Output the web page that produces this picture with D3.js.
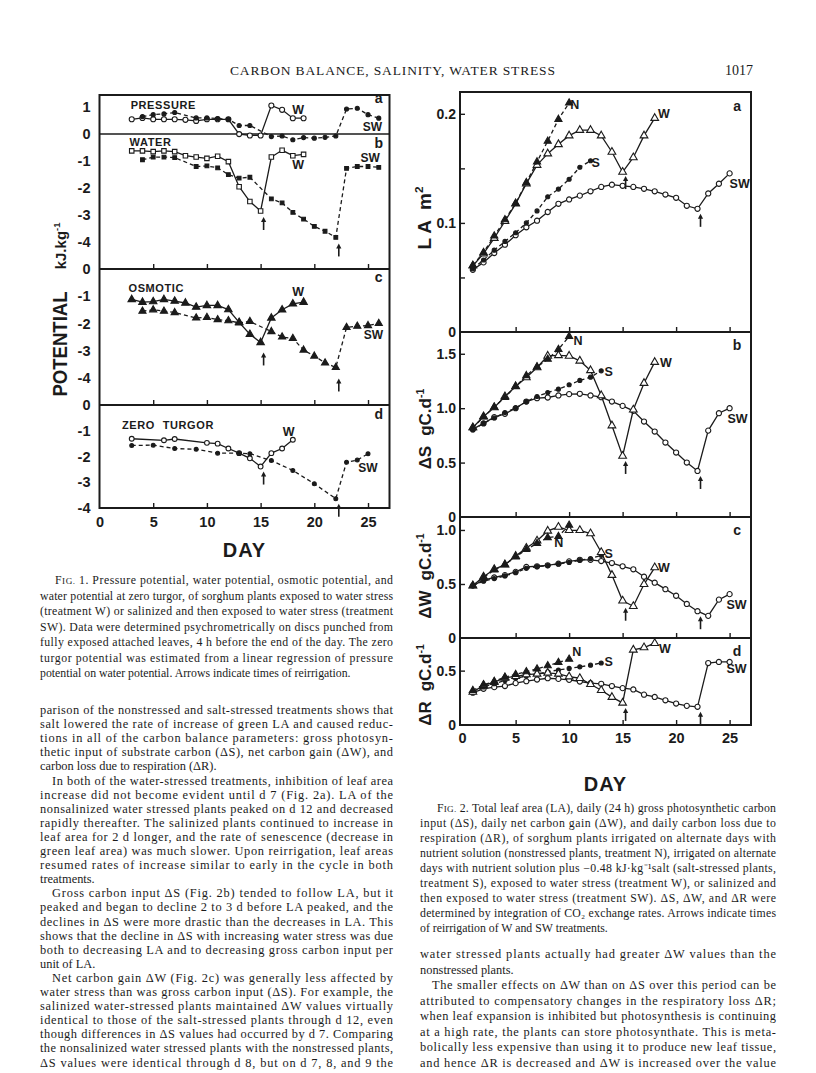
<!DOCTYPE html>
<html lang="en">
<head>
<meta charset="utf-8">
<title>Carbon balance, salinity, water stress</title>
<script src="https://cdn.jsdelivr.net/npm/d3@7"></script>
<style>
  body { margin: 0; background: #fff; }
  svg { display: block; }
</style>
</head>
<body>
<div id="page"></div>
<script>
// ---------- figure 1 data: leaf potentials (kJ/kg) by day ----------
const fig1DaysW = [3, 4, 5, 6, 7, 8, 9, 10, 11, 12, 13, 14, 15, 16, 17, 18, 19];
const fig1DaysSW = [4, 5, 6, 7, 9, 10, 11, 12, 13, 14, 16, 17, 18, 19, 20, 21, 22, 23, 24, 25, 26];
const pressureW = [0.55, 0.6, 0.55, 0.55, 0.55, 0.53, 0.49, 0.55, 0.55, 0.55, 0.0, -0.05, -0.05, 1.06, 0.9, 0.59, 0.59];
const pressureSW = [0.65, 0.72, 0.75, 0.8, 0.6, 0.6, 0.58, 0.55, 0.32, 0.32, -0.09, -0.07, -0.21, -0.13, -0.15, -0.12, -0.07, 0.93, 0.96, 0.72, 0.59];
const waterW = [-0.62, -0.62, -0.65, -0.62, -0.65, -0.8, -0.85, -0.9, -0.82, -1.02, -1.95, -2.5, -2.85, -0.85, -0.6, -0.8, -0.75];
const waterSW = [-0.95, -0.85, -0.85, -0.87, -1.2, -1.18, -1.25, -1.5, -1.63, -1.6, -2.4, -2.55, -2.9, -3.15, -3.42, -3.6, -3.83, -1.27, -1.2, -1.2, -1.23];
const osmoticW = [-1.12, -1.22, -1.2, -1.12, -1.18, -1.25, -1.4, -1.34, -1.34, -1.49, -1.96, -2.4, -2.7, -1.8, -1.5, -1.28, -1.22];
const osmoticSW = [-1.55, -1.5, -1.55, -1.6, -1.8, -1.78, -1.86, -1.9, -1.98, -1.93, -2.3, -2.5, -2.55, -2.98, -3.2, -3.45, -3.62, -2.15, -2.1, -2.08, -2.0];
const turgorDaysW = [3, 6, 7, 10, 11, 12, 13, 14, 15, 16, 17, 18];
const turgorW = [-1.31, -1.37, -1.32, -1.47, -1.5, -1.69, -1.87, -2.07, -2.39, -1.87, -1.69, -1.35];
const turgorDaysSW = [3, 5, 7, 9, 11, 13, 14, 16, 18, 20, 22, 23, 24, 25];
const turgorSW = [-1.57, -1.56, -1.69, -1.72, -1.87, -1.87, -1.89, -2.16, -2.54, -3.06, -3.64, -2.22, -2.14, -1.89];
const fig1YTicks = [[1, 0, -1, -2, -3, -4], [0, -1, -2, -3, -4], [0, -1, -2, -3, -4]];
const dayTicks = [0, 5, 10, 15, 20, 25];

// reirrigation days (arrows)
const reirrigateW = 15;
const reirrigateSW = 22;

// ---------- figure 2 data: LA (m2), dS, dW, dR (gC/d) by day ----------
const daysN = [1, 2, 3, 4, 5, 6, 7, 8, 9, 10];
const daysS12 = [1, 2, 3, 4, 5, 6, 7, 8, 9, 10, 11, 12];
const daysS = [1, 2, 3, 4, 5, 6, 7, 8, 9, 10, 11, 12, 13];
const daysW = [1, 2, 3, 4, 5, 6, 7, 8, 9, 10, 11, 12, 13, 14, 15, 16, 17, 18];
const daysSW = [1, 2, 3, 4, 5, 6, 7, 8, 9, 10, 11, 12, 13, 14, 15, 16, 17, 18, 19, 20, 21, 22, 23, 24, 25];

const laN = [0.061, 0.073, 0.088, 0.103, 0.118, 0.137, 0.156, 0.175, 0.195, 0.21];
const laS = [0.058, 0.066, 0.075, 0.083, 0.091, 0.1, 0.111, 0.124, 0.131, 0.14, 0.151, 0.157];
const laW = [0.0607, 0.0718, 0.086, 0.1015, 0.1175, 0.136, 0.153, 0.1635, 0.172, 0.18, 0.185, 0.185, 0.18, 0.165, 0.1466, 0.16, 0.18, 0.196];
const laSW = [0.057, 0.0638, 0.0724, 0.08, 0.0887, 0.096, 0.102, 0.11, 0.1175, 0.1215, 0.125, 0.129, 0.133, 0.135, 0.134, 0.133, 0.1313, 0.129, 0.126, 0.123, 0.1157, 0.1129, 0.127, 0.1359, 0.1454];

const dsN = [0.82, 0.92, 1.01, 1.1, 1.2, 1.3, 1.38, 1.45, 1.54, 1.66];
const dsS = [0.8, 0.86, 0.91, 0.96, 1.0, 1.06, 1.107, 1.144, 1.175, 1.215, 1.255, 1.285, 1.343];
const dsW = [0.822, 0.923, 1.006, 1.107, 1.2, 1.282, 1.374, 1.48, 1.485, 1.48, 1.435, 1.347, 1.117, 0.84, 0.561, 0.985, 1.23, 1.423];
const dsSW = [0.807, 0.86, 0.917, 0.948, 1.0, 1.061, 1.092, 1.098, 1.117, 1.129, 1.132, 1.117, 1.101, 1.061, 1.021, 0.975, 0.877, 0.785, 0.684, 0.592, 0.5, 0.423, 0.794, 0.954, 1.0];

const dwN = [0.485, 0.56, 0.63, 0.68, 0.75, 0.82, 0.875, 0.93, 0.94, 1.045];
const dwS = [0.485, 0.525, 0.55, 0.575, 0.605, 0.645, 0.66, 0.67, 0.685, 0.7, 0.72, 0.735, 0.765];
const dwW = [0.485, 0.567, 0.636, 0.679, 0.758, 0.833, 0.9, 0.991, 1.027, 0.997, 0.997, 0.967, 0.794, 0.582, 0.345, 0.294, 0.497, 0.652];
const dwSW = [0.485, 0.536, 0.56, 0.582, 0.612, 0.658, 0.664, 0.673, 0.688, 0.709, 0.724, 0.724, 0.712, 0.694, 0.664, 0.636, 0.567, 0.512, 0.452, 0.391, 0.315, 0.248, 0.205, 0.355, 0.406];

const drN = [0.318, 0.37, 0.4, 0.44, 0.465, 0.49, 0.515, 0.545, 0.576, 0.606];
const drS = [0.3, 0.35, 0.38, 0.41, 0.43, 0.45, 0.47, 0.49, 0.506, 0.52, 0.535, 0.55, 0.57];
const drW = [0.303, 0.364, 0.394, 0.433, 0.448, 0.464, 0.47, 0.479, 0.47, 0.445, 0.43, 0.375, 0.32, 0.256, 0.203, 0.691, 0.712, 0.752];
const drSW = [0.297, 0.333, 0.348, 0.358, 0.385, 0.403, 0.418, 0.43, 0.424, 0.415, 0.4, 0.385, 0.379, 0.358, 0.339, 0.327, 0.279, 0.258, 0.227, 0.197, 0.176, 0.167, 0.57, 0.58, 0.58];

const fig2YLabels = [[0.2, 0.1, 0], [1.5, 1.0, 0.5, 0], [1.0, 0.5, 0], [0.5, 0]];
const fig2YTicks = [[0.05, 0.1, 0.15, 0.2], [0.5, 1.0, 1.5], [0.5, 1.0], [0.5]];

// ---------- page text ----------
const headerTitle = "CARBON BALANCE, SALINITY, WATER STRESS";
const pageNumber = "1017";

const fig1Caption = [
  {
    indent: true,
    lines: [
      "FIG. 1. Pressure potential, water potential, osmotic potential, and",
      "water potential at zero turgor, of sorghum plants exposed to water stress",
      "(treatment W) or salinized and then exposed to water stress (treatment",
      "SW). Data were determined psychrometrically on discs punched from",
      "fully exposed attached leaves, 4 h before the end of the day. The zero",
      "turgor potential was estimated from a linear regression of pressure",
      "potential on water potential. Arrows indicate times of reirrigation.",
    ],
  },
];

const leftBody = [
  {
    indent: false,
    lines: [
      "parison of the nonstressed and salt-stressed treatments shows that",
      "salt lowered the rate of increase of green LA and caused reduc-",
      "tions in all of the carbon balance parameters: gross photosyn-",
      "thetic input of substrate carbon (ΔS), net carbon gain (ΔW), and",
      "carbon loss due to respiration (ΔR).",
    ],
  },
  {
    indent: true,
    lines: [
      "In both of the water-stressed treatments, inhibition of leaf area",
      "increase did not become evident until d 7 (Fig. 2a). LA of the",
      "nonsalinized water stressed plants peaked on d 12 and decreased",
      "rapidly thereafter. The salinized plants continued to increase in",
      "leaf area for 2 d longer, and the rate of senescence (decrease in",
      "green leaf area) was much slower. Upon reirrigation, leaf areas",
      "resumed rates of increase similar to early in the cycle in both",
      "treatments.",
    ],
  },
  {
    indent: true,
    lines: [
      "Gross carbon input ΔS (Fig. 2b) tended to follow LA, but it",
      "peaked and began to decline 2 to 3 d before LA peaked, and the",
      "declines in ΔS were more drastic than the decreases in LA. This",
      "shows that the decline in ΔS with increasing water stress was due",
      "both to decreasing LA and to decreasing gross carbon input per",
      "unit of LA.",
    ],
  },
  {
    indent: true,
    cont: true,
    lines: [
      "Net carbon gain ΔW (Fig. 2c) was generally less affected by",
      "water stress than was gross carbon input (ΔS). For example, the",
      "salinized water-stressed plants maintained ΔW values virtually",
      "identical to those of the salt-stressed plants through d 12, even",
      "though differences in ΔS values had occurred by d 7. Comparing",
      "the nonsalinized water stressed plants with the nonstressed plants,",
      "ΔS values were identical through d 8, but on d 7, 8, and 9 the",
    ],
  },
];

const fig2Caption = [
  {
    indent: true,
    lines: [
      "FIG. 2. Total leaf area (LA), daily (24 h) gross photosynthetic carbon",
      "input (ΔS), daily net carbon gain (ΔW), and daily carbon loss due to",
      "respiration (ΔR), of sorghum plants irrigated on alternate days with",
      "nutrient solution (nonstressed plants, treatment N), irrigated on alternate",
      "days with nutrient solution plus −0.48 kJ·kg⁻¹salt (salt-stressed plants,",
      "treatment S), exposed to water stress (treatment W), or salinized and",
      "then exposed to water stress (treatment SW). ΔS, ΔW, and ΔR were",
      "determined by integration of CO₂ exchange rates. Arrows indicate times",
      "of reirrigation of W and SW treatments.",
    ],
  },
];

const rightBody = [
  {
    indent: false,
    lines: [
      "water stressed plants actually had greater ΔW values than the",
      "nonstressed plants.",
    ],
  },
  {
    indent: true,
    cont: true,
    lines: [
      "The smaller effects on ΔW than on ΔS over this period can be",
      "attributed to compensatory changes in the respiratory loss ΔR;",
      "when leaf expansion is inhibited but photosynthesis is continuing",
      "at a high rate, the plants can store photosynthate. This is meta-",
      "bolically less expensive than using it to produce new leaf tissue,",
      "and hence ΔR is decreased and ΔW is increased over the value",
    ],
  },
];

// ---------- setup ----------
const ink = "#1b1b1b";
const sans = "'Liberation Sans', Arial, Helvetica, sans-serif";
const serif = "'Liberation Serif', 'Times New Roman', serif";

const svg = d3
  .select("#page")
  .append("svg")
  .attr("width", 816)
  .attr("height", 1073);

svg.append("rect").attr("width", 816).attr("height", 1073).attr("fill", "#fff");

// running head
svg
  .append("text")
  .attr("x", 230)
  .attr("y", 75)
  .attr("textLength", 325)
  .attr("lengthAdjust", "spacing")
  .style("font-family", serif)
  .style("font-size", "13.5px")
  .style("fill", ink)
  .text(headerTitle);

svg
  .append("text")
  .attr("x", 753)
  .attr("y", 75)
  .attr("text-anchor", "end")
  .style("font-family", serif)
  .style("font-size", "14px")
  .style("fill", ink)
  .text(pageNumber);

// ---------- helpers ----------
function seriesPoints(days, values) {
  return days.map((d, i) => ({ day: d, v: values[i] }));
}

function drawSeries(g, xS, yS, s) {
  const pts = seriesPoints(s.days, s.values);
  g.append("path")
    .datum(pts)
    .attr("fill", "none")
    .attr("stroke", ink)
    .attr("stroke-width", 1.3)
    .attr("stroke-dasharray", s.dashed ? "4,3" : null)
    .attr(
      "d",
      d3
        .line()
        .x((d) => xS(d.day))
        .y((d) => yS(d.v))
    );

  const sym = d3.symbol().type(s.symbol).size(s.size);
  g.selectAll(null)
    .data(pts)
    .join("path")
    .attr("transform", (d) => `translate(${xS(d.day)},${yS(d.v)})`)
    .attr("d", sym)
    .attr("fill", s.filled ? ink : "#fff")
    .attr("stroke", ink)
    .attr("stroke-width", 1.1);

  // reirrigation arrow under the low point
  if (s.arrow !== undefined) {
    const i = s.days.indexOf(s.arrow);
    const ax = xS(s.arrow) + 3;
    const top = yS(s.values[i]) + s.gap;
    g.append("line")
      .attr("x1", ax)
      .attr("x2", ax)
      .attr("y1", top + 3)
      .attr("y2", top + 13)
      .attr("stroke", ink)
      .attr("stroke-width", 1.6);
    g.append("path")
      .attr("d", `M${ax - 2.6},${top + 5}L${ax},${top}L${ax + 2.6},${top + 5}Z`)
      .attr("fill", ink);
  }
}

function drawLabels(g, xS, yS, labels) {
  labels.forEach((l) => {
    g.append("text")
      .attr("x", xS(l.day))
      .attr("y", yS(l.v))
      .attr("text-anchor", l.anchor || "start")
      .style("font-family", sans)
      .style("font-weight", "bold")
      .style("font-size", `${l.size || 12.5}px`)
      .style("letter-spacing", l.spacing || null)
      .style("word-spacing", l.words || null)
      .style("fill", ink)
      .text(l.text);
  });
}

function drawPanel(root, xS, p, opt) {
  const yS = d3.scaleLinear().domain(p.domain).range([p.bottom, p.top]);
  const left = xS.range()[0];
  const right = xS.range()[1];

  // y tick labels
  root
    .append("g")
    .attr("transform", `translate(${left},0)`)
    .call(
      d3
        .axisLeft(yS)
        .tickValues(p.labels)
        .tickSize(0)
        .tickPadding(opt.yPad)
        .tickFormat(p.format)
    )
    .call((g) => g.select(".domain").remove())
    .attr("font-family", sans)
    .attr("font-size", opt.tickFont)
    .attr("font-weight", "bold")
    .selectAll("text")
    .attr("fill", ink);

  // inward y ticks
  if (p.yTicks) {
    root
      .append("g")
      .attr("transform", `translate(${left},0)`)
      .call(d3.axisRight(yS).tickValues(p.yTicks).tickSize(5).tickFormat(""))
      .call((g) => g.select(".domain").remove())
      .selectAll("line")
      .attr("stroke", ink)
      .attr("stroke-width", 1.4);
  }

  // inward day ticks along the bottom edge
  root
    .append("g")
    .attr("transform", `translate(0,${p.bottom})`)
    .call(d3.axisTop(xS).tickValues(dayTicks.slice(1)).tickSize(5).tickFormat(""))
    .call((g) => g.select(".domain").remove())
    .selectAll("line")
    .attr("stroke", ink)
    .attr("stroke-width", 1.4);

  if (p.zeroLine) {
    root
      .append("line")
      .attr("x1", left)
      .attr("x2", right)
      .attr("y1", yS(0))
      .attr("y2", yS(0))
      .attr("stroke", ink)
      .attr("stroke-width", 1.5);
  }

  p.series.forEach((s) => drawSeries(root, xS, yS, s));
  drawLabels(root, xS, yS, p.text);
  return yS;
}

function drawFrame(root, xS, panels) {
  const left = xS.range()[0];
  const right = xS.range()[1];
  const top = panels[0].top;
  const bottom = panels[panels.length - 1].bottom;
  root
    .append("rect")
    .attr("x", left)
    .attr("y", top)
    .attr("width", right - left)
    .attr("height", bottom - top)
    .attr("fill", "none")
    .attr("stroke", ink)
    .attr("stroke-width", 2);
  panels.slice(1).forEach((p) => {
    root
      .append("line")
      .attr("x1", left)
      .attr("x2", right)
      .attr("y1", p.top)
      .attr("y2", p.top)
      .attr("stroke", ink)
      .attr("stroke-width", 1.8);
  });
}

function drawDayAxis(root, xS, bottom, pad, titleDrop) {
  root
    .append("g")
    .attr("transform", `translate(0,${bottom})`)
    .call(d3.axisBottom(xS).tickValues(dayTicks).tickSize(0).tickPadding(pad))
    .call((g) => g.select(".domain").remove())
    .attr("font-family", sans)
    .attr("font-size", 14.5)
    .attr("font-weight", "bold")
    .selectAll("text")
    .attr("fill", ink);
  root
    .append("text")
    .attr("x", (xS.range()[0] + xS.range()[1]) / 2)
    .attr("y", bottom + titleDrop)
    .attr("text-anchor", "middle")
    .style("font-family", sans)
    .style("font-weight", "bold")
    .style("font-size", "20px")
    .style("letter-spacing", "1px")
    .style("fill", ink)
    .text("DAY");
}

// rotated axis title with a superscript tail
function drawYTitle(x, yMid, main, unit, sup, size, gap) {
  const t = svg
    .append("text")
    .attr("transform", `translate(${x},${yMid}) rotate(-90)`)
    .attr("text-anchor", "middle")
    .style("font-family", sans)
    .style("font-weight", "bold")
    .style("font-size", `${size}px`)
    .style("fill", ink);
  t.append("tspan").text(main);
  t.append("tspan").attr("dx", gap).text(unit);
  t.append("tspan")
    .attr("dy", -size * 0.42)
    .style("font-size", `${size * 0.62}px`)
    .text(sup);
  return t;
}

// ---------- figure 1 ----------
const fig1 = svg.append("g").attr("class", "fig1");
const fig1X = d3.scaleLinear().domain([0, 27]).range([99.5, 389.5]);
const intFmt = (d) => String(d);

const fig1Panels = [
  {
    top: 95,
    bottom: 269,
    domain: [-5, 1.45],
    labels: fig1YTicks[0],
    format: intFmt,
    zeroLine: true,
    series: [
      { days: fig1DaysW, values: pressureW, symbol: d3.symbolCircle, size: 20, filled: false },
      { days: fig1DaysSW, values: pressureSW, symbol: d3.symbolCircle, size: 13, filled: true, dashed: true },
      { days: fig1DaysW, values: waterW, symbol: d3.symbolSquare, size: 20, filled: false, arrow: reirrigateW, gap: 6 },
      { days: fig1DaysSW, values: waterSW, symbol: d3.symbolSquare, size: 14, filled: true, dashed: true, arrow: reirrigateSW, gap: 6 },
    ],
    text: [
      { text: "PRESSURE", day: 2.9, v: 0.92, size: 11, spacing: "0.6px" },
      { text: "W", day: 18.5, v: 0.74, anchor: "middle" },
      { text: "a", day: 26, v: 1.14, anchor: "middle", size: 14 },
      { text: "SW", day: 25.4, v: 0.11, anchor: "middle", size: 12 },
      { text: "WATER", day: 2.8, v: -0.44, size: 11, spacing: "0.6px" },
      { text: "b", day: 26, v: -0.5, anchor: "middle", size: 14 },
      { text: "SW", day: 25.2, v: -1.03, anchor: "middle", size: 12 },
      { text: "W", day: 18.5, v: -1.29, anchor: "middle" },
    ],
  },
  {
    top: 269,
    bottom: 405,
    domain: [-5, 0],
    labels: fig1YTicks[1],
    format: intFmt,
    series: [
      { days: fig1DaysW, values: osmoticW, symbol: d3.symbolTriangle, size: 24, filled: true, arrow: reirrigateW, gap: 10 },
      { days: fig1DaysSW, values: osmoticSW, symbol: d3.symbolTriangle, size: 22, filled: true, dashed: true, arrow: reirrigateSW, gap: 11 },
    ],
    text: [
      { text: "OSMOTIC", day: 2.7, v: -0.85, size: 11, spacing: "0.6px" },
      { text: "W", day: 18.5, v: -1.0, anchor: "middle" },
      { text: "c", day: 26, v: -0.48, anchor: "middle", size: 14 },
      { text: "SW", day: 25.5, v: -2.58, anchor: "middle", size: 12 },
    ],
  },
  {
    top: 405,
    bottom: 508,
    domain: [-4, 0],
    labels: fig1YTicks[2],
    format: intFmt,
    series: [
      { days: turgorDaysW, values: turgorW, symbol: d3.symbolCircle, size: 18, filled: false, arrow: reirrigateW, gap: 5 },
      { days: turgorDaysSW, values: turgorSW, symbol: d3.symbolCircle, size: 12, filled: true, dashed: true, arrow: reirrigateSW, gap: 5 },
    ],
    text: [
      { text: "ZERO TURGOR", day: 2.1, v: -0.93, size: 11, spacing: "0.6px", words: "4px" },
      { text: "W", day: 17.6, v: -1.2, anchor: "middle" },
      { text: "d", day: 26, v: -0.54, anchor: "middle", size: 14 },
      { text: "SW", day: 25, v: -2.6, anchor: "middle", size: 12 },
    ],
  },
];

fig1Panels.forEach((p) => drawPanel(fig1, fig1X, p, { yPad: 9, tickFont: 14.5 }));
drawFrame(fig1, fig1X, fig1Panels);
drawDayAxis(fig1, fig1X, 508, 8.5, 49);

// potential title, two pieces
svg
  .append("text")
  .attr("transform", "translate(67,344) rotate(-90)")
  .attr("text-anchor", "middle")
  .attr("textLength", 105)
  .attr("lengthAdjust", "spacingAndGlyphs")
  .style("font-family", sans)
  .style("font-weight", "bold")
  .style("font-size", "20px")
  .style("fill", ink)
  .text("POTENTIAL");
drawYTitle(66, 246, "", "kJ.kg", "-1", 15, 0);

// ---------- figure 2 ----------
const fig2 = svg.append("g").attr("class", "fig2");
const fig2X = d3.scaleLinear().domain([-0.2, 27]).range([460, 751]);
const decFmt = (d) => (d === 0 ? "0" : d.toFixed(1));

// shared marker styles for the four treatments
const styleN = { symbol: d3.symbolTriangle, size: 22, filled: true, dashed: true };
const styleS = { symbol: d3.symbolCircle, size: 13, filled: true, dashed: true };
const styleW = { symbol: d3.symbolTriangle, size: 26, filled: false };
const styleSW = { symbol: d3.symbolCircle, size: 21, filled: false };

const fig2Panels = [
  {
    top: 92,
    bottom: 332,
    domain: [0, 0.22],
    labels: fig2YLabels[0],
    yTicks: fig2YTicks[0],
    format: decFmt,
    series: [
      { ...styleSW, days: daysSW, values: laSW, arrow: reirrigateSW, gap: 5 },
      { ...styleS, days: daysS12, values: laS },
      { ...styleW, days: daysW, values: laW, arrow: reirrigateW, gap: 4 },
      { ...styleN, days: daysN, values: laN },
    ],
    text: [
      { text: "N", day: 10.1, v: 0.2046 },
      { text: "W", day: 18.3, v: 0.196 },
      { text: "S", day: 12.1, v: 0.151 },
      { text: "SW", day: 25, v: 0.132 },
      { text: "a", day: 25.7, v: 0.203, anchor: "middle", size: 14 },
    ],
  },
  {
    top: 332,
    bottom: 517,
    domain: [0, 1.7],
    labels: fig2YLabels[1],
    yTicks: fig2YTicks[1],
    format: decFmt,
    series: [
      { ...styleSW, days: daysSW, values: dsSW, arrow: reirrigateSW, gap: 5 },
      { ...styleS, days: daysS, values: dsS },
      { ...styleW, days: daysW, values: dsW, arrow: reirrigateW, gap: 5 },
      { ...styleN, days: daysN, values: dsN },
    ],
    text: [
      { text: "N", day: 10.4, v: 1.58 },
      { text: "b", day: 25.7, v: 1.535, anchor: "middle", size: 14 },
      { text: "W", day: 18.5, v: 1.38 },
      { text: "S", day: 13.3, v: 1.296 },
      { text: "SW", day: 24.8, v: 0.864 },
    ],
  },
  {
    top: 517,
    bottom: 638,
    domain: [0, 1.12],
    labels: fig2YLabels[2],
    yTicks: fig2YTicks[2],
    format: decFmt,
    series: [
      { ...styleSW, days: daysSW, values: dwSW, arrow: reirrigateSW, gap: 5 },
      { ...styleS, days: daysS, values: dwS },
      { ...styleW, days: daysW, values: dwW, arrow: reirrigateW, gap: 7 },
      { ...styleN, days: daysN, values: dwN },
    ],
    text: [
      { text: "c", day: 25.7, v: 0.954, anchor: "middle", size: 14 },
      { text: "N", day: 8.6, v: 0.843 },
      { text: "S", day: 13.3, v: 0.74 },
      { text: "W", day: 18.3, v: 0.611 },
      { text: "SW", day: 24.7, v: 0.268 },
    ],
  },
  {
    top: 638,
    bottom: 725,
    domain: [0, 0.8],
    labels: fig2YLabels[3],
    yTicks: fig2YTicks[3],
    format: decFmt,
    series: [
      { ...styleSW, days: daysSW, values: drSW, arrow: reirrigateSW, gap: 5 },
      { ...styleS, days: daysS, values: drS },
      { ...styleW, days: daysW, values: drW, arrow: reirrigateW, gap: 5 },
      { ...styleN, days: daysN, values: drN },
    ],
    text: [
      { text: "N", day: 10.3, v: 0.63 },
      { text: "S", day: 13.3, v: 0.546 },
      { text: "W", day: 18.4, v: 0.665 },
      { text: "d", day: 25.7, v: 0.636, anchor: "middle", size: 14 },
      { text: "SW", day: 24.7, v: 0.48 },
    ],
  },
];

fig2Panels.forEach((p) => drawPanel(fig2, fig2X, p, { yPad: 4, tickFont: 14 }));
drawFrame(fig2, fig2X, fig2Panels);
drawDayAxis(fig2, fig2X, 725, 7.5, 66);

drawYTitle(431, 218, "L A", "m", "2", 19, 10);
drawYTitle(431, 429, "ΔS", "gC.d", "-1", 17, 10);
drawYTitle(431, 576, "ΔW", "gC.d", "-1", 17, 10);
drawYTitle(431, 685, "ΔR", "gC.d", "-1", 17, 10);

// ---------- running text ----------
function drawParagraphs(paras, x0, x1, y0, step, size, indent) {
  let y = y0;
  paras.forEach((para) => {
    para.lines.forEach((line, i) => {
      const dx = i === 0 && para.indent ? indent : 0;
      const justify = i < para.lines.length - 1 || para.cont;
      const t = svg
        .append("text")
        .attr("x", x0 + dx)
        .attr("y", y)
        .style("font-family", serif)
        .style("font-size", `${size}px`)
        .style("fill", ink);
      if (line.startsWith("FIG.")) {
        t.append("tspan").text("F");
        t.append("tspan").style("font-size", `${size * 0.78}px`).text("IG.");
        t.append("tspan").text(line.slice(4));
      } else {
        t.text(line);
      }
      if (justify) {
        t.attr("textLength", x1 - x0 - dx).attr("lengthAdjust", "spacing");
      }
      y += step;
    });
  });
}

drawParagraphs(fig1Caption, 40, 393, 584, 15.5, 11.8, 15);
drawParagraphs(leftBody, 40, 393, 714, 14.1, 12.4, 12);
drawParagraphs(fig2Caption, 420, 776, 812, 15, 11.8, 17);
drawParagraphs(rightBody, 420, 776, 958, 15.5, 12.4, 12);
</script>
</body>
</html>
